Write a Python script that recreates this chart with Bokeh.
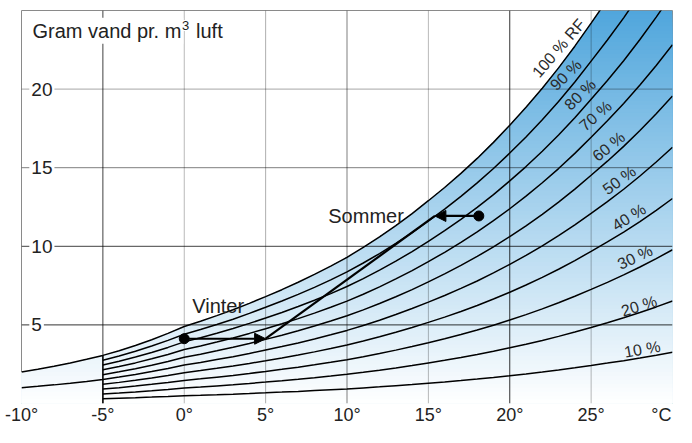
import numpy as np
from bokeh.plotting import figure
from bokeh.models import Arrow, NormalHead, Range1d, ColumnDataSource, FixedTicker
from bokeh.core.properties import value
from bokeh.embed import file_html
from bokeh.resources import INLINE

# ---------------- data ----------------
# water content of saturated air (100 % RF), g/m3, at every 1 degC
temp_c = list(range(-10, 31))
sat_gm3 = [2.00, 2.18, 2.37, 2.58, 2.81, 3.06, 3.36, 3.69, 4.06, 4.46,
           4.90, 5.23, 5.59, 5.96, 6.37, 6.80, 7.24, 7.71, 8.21, 8.74,
           9.30, 9.93, 10.60, 11.32, 12.08, 12.90, 13.74, 14.64, 15.59, 16.61,
           17.70, 18.84, 20.06, 21.35, 22.73, 24.20, 25.69, 27.26, 28.94, 30.72, 32.60]

rh_levels = [100, 90, 80, 70, 60, 50, 40, 30, 20, 10]
rh_labels = ["100 % RF", "90 %", "80 %", "70 %", "60 %", "50 %", "40 %", "30 %", "20 %", "10 %"]
rh_from_minus10 = [100, 50]          # curves drawn from -10 degC, the rest from -5 degC

x_ticks = [-10, -5, 0, 5, 10, 15, 20, 25, 30]
x_tick_labels = ["-10°", "-5°", "0°", "5°", "10°", "15°", "20°", "25°", "°C"]
y_ticks = [5, 10, 15, 20]
y_tick_labels = ["5", "10", "15", "20"]

# winter / summer air states
vinter_t = [0.0, 5.0]
vinter_g = [4.12, 4.12]
sommer_t = [18.1, 15.4]
sommer_g = [11.93, 11.93]

# ---------------- layout / style ----------------
label_pos_x = [23.0, 23.45, 24.32, 25.27, 26.08, 26.73, 27.33, 27.70, 27.94, 28.14]
label_pos_y = [22.6, 20.9, 19.65, 18.3, 16.35, 14.2, 11.85, 9.3, 6.2, 3.45]
label_angle_deg = [49, 44, 44, 41, 39, 36, 32, 25, 17, 10]

vgrid_alpha = {-5: 0.75, 0: 0.28, 5: 0.32, 10: 0.5, 15: 0.28, 20: 0.8, 25: 0.28}
hgrid_alpha = {5: 0.8, 10: 0.75, 15: 0.5, 20: 0.35}

TOP = np.array([80, 166, 220])
FONT = "Liberation Sans"


def grad(yv):
    t = max(yv, 0) / 25.0
    c = 255 + t * (TOP - 255)
    return "#%02x%02x%02x" % tuple(int(round(v)) for v in c)


T = np.array(temp_c, dtype=float)
S = np.array(sat_gm3, dtype=float)

p = figure(width=676, height=427, x_range=Range1d(-10, 30), y_range=Range1d(0, 25),
           output_backend="svg", toolbar_location=None,
           x_axis_location="below", y_axis_location=None,
           min_border_left=21, min_border_right=4, min_border_top=10, min_border_bottom=0)
p.grid.visible = False
p.outline_line_color = "#8a8a8a"
p.outline_line_width = 1
p.background_fill_color = "white"
p.border_fill_color = "white"

ax = p.xaxis[0]
ax.ticker = FixedTicker(ticks=x_ticks)
ax.major_label_overrides = {t: (lab if t != x_ticks[-1] else lab + "\u00a0")
                            for t, lab in zip(x_ticks, x_tick_labels)}
ax.axis_line_color = None
ax.major_tick_line_color = None
ax.minor_tick_line_color = None
ax.major_tick_in = 0
ax.major_tick_out = 0
ax.major_label_standoff = 1
ax.major_label_text_font = FONT
ax.major_label_text_font_size = "18px"
ax.major_label_text_color = "#222222"

# gradient fill under the 100 % curve (drawn top band first, lower bands on top)
levels = np.linspace(0, 25, 101)
cross = np.interp(levels, S, T)
xs = np.unique(np.concatenate([T, cross]))
fs = np.interp(xs, T, S)
for k in range(len(levels) - 1, 0, -1):
    hi = levels[k]
    col = grad((levels[k] + levels[k - 1]) / 2)
    p.varea(x=xs, y1=np.zeros_like(xs), y2=np.minimum(fs, hi), fill_color=col, fill_alpha=1)

# grid lines (semi transparent so they darken the blue)
for xv, a in vgrid_alpha.items():
    p.segment(x0=[xv], y0=[0], x1=[xv], y1=[25], line_color="black", line_alpha=a, line_width=1)
for yv, a in hgrid_alpha.items():
    p.segment(x0=[-10], y0=[yv], x1=[30], y1=[yv], line_color="black", line_alpha=a, line_width=1)

# start of the short curves at -5 degC
p.segment(x0=[-5], y0=[0], x1=[-5], y1=[S[T == -5][0]], line_color="black", line_width=1.4)

# relative humidity curves
for rh in rh_levels:
    start = -10 if rh in rh_from_minus10 else -5
    m = T >= start
    p.line(T[m], S[m] * rh / 100.0, line_color="black", line_width=1.5)

# winter -> summer path
p.line([vinter_t[1], sommer_t[1]], [vinter_g[1], sommer_g[1]], line_color="black", line_width=2.2)
p.add_layout(Arrow(end=NormalHead(size=11, fill_color="black", line_color="black"),
                   x_start=vinter_t[0], y_start=vinter_g[0], x_end=vinter_t[1], y_end=vinter_g[1],
                   line_width=2.2, line_color="black"))
p.add_layout(Arrow(end=NormalHead(size=11, fill_color="black", line_color="black"),
                   x_start=sommer_t[0], y_start=sommer_g[0], x_end=sommer_t[1], y_end=sommer_g[1],
                   line_width=2.2, line_color="black"))
p.scatter(x=[vinter_t[0], sommer_t[0]], y=[vinter_g[0], sommer_g[0]], size=10, color="black")

# RF labels on the curves
lab_src = ColumnDataSource(dict(
    x=label_pos_x, y=label_pos_y, text=rh_labels,
    angle=[np.deg2rad(a) for a in label_angle_deg],
))
p.text(x="x", y="y", text="text", angle="angle", source=lab_src,
       text_font=value(FONT), text_font_size="16px", text_color="#2a2a2a",
       text_align="center", text_baseline="middle")

# y tick labels inside the frame
p.text(x=[-9.52] * len(y_ticks), y=y_ticks, text=y_tick_labels,
       text_font=value(FONT), text_font_size="19px", text_color="#222222",
       text_align="left", text_baseline="middle",
       background_fill_color="white", padding=2)

# axis title "Gram vand pr. m3 luft"
p.text(x=[-9.45], y=[23.71], text=["Gram vand pr. m"],
       text_font=value(FONT), text_font_size="20px", text_color="#222222",
       text_align="left", text_baseline="alphabetic",
       background_fill_color="white", padding=2)
p.text(x=[-0.2], y=[24.05], text=["3"],
       text_font=value(FONT), text_font_size="13px", text_color="#222222",
       text_align="left", text_baseline="alphabetic",
       background_fill_color="white", padding=1)
p.text(x=[0.6], y=[23.71], text=["luft"],
       text_font=value(FONT), text_font_size="20px", text_color="#222222",
       text_align="left", text_baseline="alphabetic",
       background_fill_color="white", padding=2)

# season labels
p.text(x=[0.49, 8.85], y=[6.22, 11.93], text=["Vinter", "Sommer"],
       text_font=value(FONT), text_font_size="20px", text_color="#222222",
       text_align="left", text_baseline="alphabetic")

open("out.html", "w").write(file_html(p, INLINE))
